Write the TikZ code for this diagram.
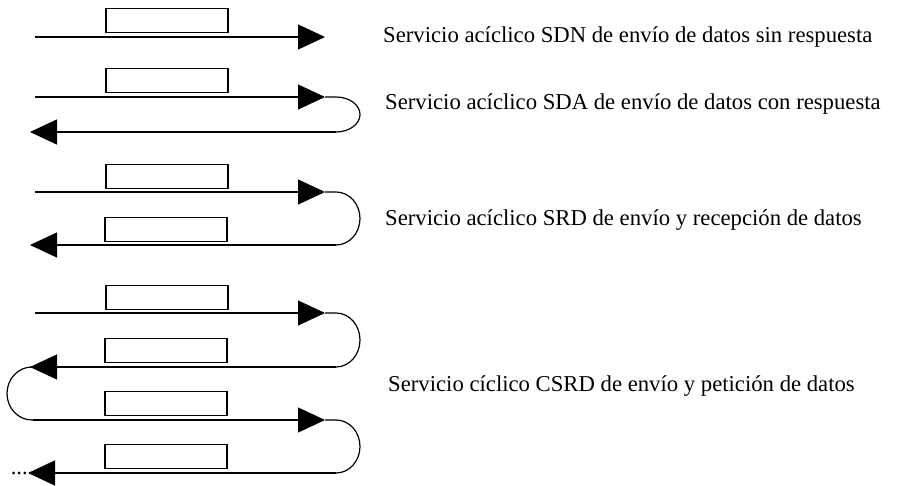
\documentclass[tikz,border=0pt]{standalone}
\usepackage{fontspec}
\setmainfont{Liberation Serif}
\usetikzlibrary{arrows.meta,positioning}

\begin{document}
\begin{tikzpicture}[x=1pt,y=-1pt,
  frame/.style={draw,line width=1.4pt,minimum width=122pt,minimum height=24pt,inner sep=0pt},
  flow/.style={line width=1.2pt,-{Triangle[length=27pt,width=25pt]}},
  turn/.style={line width=1.2pt},
  caption/.style={anchor=west,inner sep=0pt,font=\fontsize{22.7}{25}\selectfont}]

  \useasboundingbox (0,0) rectangle (915,486);

  % SDN
  \coordinate (n_in) at (35,37);
  \coordinate (n_out) at (325,37);
  \coordinate (n_mid) at (167,37);
  \node[frame] (n_msg) [above=4pt of n_mid] {};
  \draw[flow] (n_in) -- (n_out);
  \node[caption] (sdn) at (383,37) {Servicio acíclico SDN de envío de datos sin respuesta};

  % SDA
  \coordinate (a_in) at (35,97);
  \coordinate (a_out) at (325,97);
  \coordinate (a_mid) at (167,97);
  \coordinate (a_back) at (336,132);
  \coordinate (a_end) at (30,132);
  \node[frame] (a_msg) [above=4pt of a_mid] {};
  \draw[flow] (a_in) -- (a_out);
  \draw[turn] (a_out) -- ++(11,0) arc[start angle=90,end angle=-90,x radius=24pt,y radius=17.5pt];
  \draw[flow] (a_back) -- (a_end);
  \node[caption] (sda) at (385,104) {Servicio acíclico SDA de envío de datos con respuesta};

  % SRD
  \coordinate (r_in) at (35,192);
  \coordinate (r_out) at (325,192);
  \coordinate (r_mid) at (167,192);
  \coordinate (r_back) at (336,245);
  \coordinate (r_end) at (30,245);
  \coordinate (r_mid2) at (166,245);
  \node[frame] (r_msg) [above=3pt of r_mid] {};
  \node[frame] (r_ans) [above=3pt of r_mid2] {};
  \draw[flow] (r_in) -- (r_out);
  \draw[turn] (r_out) -- ++(11,0) arc[start angle=90,end angle=-90,x radius=24pt,y radius=26.5pt];
  \draw[flow] (r_back) -- (r_end);
  \node[caption] (srd) at (385,220) {Servicio acíclico SRD de envío y recepción de datos};

  % CSRD
  \coordinate (c_in) at (35,313);
  \coordinate (c_out) at (325,313);
  \coordinate (c_mid) at (167,313);
  \coordinate (c_back) at (336,367);
  \coordinate (c_end) at (30,367);
  \coordinate (c_mid2) at (166,367);
  \coordinate (c_in2) at (33,420);
  \coordinate (c_out2) at (325,420);
  \coordinate (c_mid3) at (166,420);
  \coordinate (c_back2) at (336,473);
  \coordinate (c_end2) at (28,473);
  \coordinate (c_mid4) at (166,473);
  \node[frame] (c_msg) [above=3pt of c_mid] {};
  \node[frame] (c_ans) [above=4pt of c_mid2] {};
  \node[frame] (c_msg2) [above=4pt of c_mid3] {};
  \node[frame] (c_ans2) [above=4pt of c_mid4] {};
  \draw[flow] (c_in) -- (c_out);
  \draw[turn] (c_out) -- ++(11,0) arc[start angle=90,end angle=-90,x radius=24pt,y radius=27pt];
  \draw[flow] (c_back) -- (c_end);
  \draw[turn] (c_end) -- ++(2,0) arc[start angle=90,end angle=270,x radius=25pt,y radius=26.5pt] -- (c_in2);
  \draw[flow] (c_in2) -- (c_out2);
  \draw[turn] (c_out2) -- ++(11,0) arc[start angle=90,end angle=-90,x radius=24pt,y radius=26.5pt];
  \draw[flow] (c_back2) -- (c_end2);
  \node[anchor=east,inner sep=0pt,font=\fontsize{22.7}{25}\selectfont] (dots) at (c_end2) {...};
  \node[caption] (csrd) at (388,386) {Servicio cíclico CSRD de envío y petición de datos};

\end{tikzpicture}
\end{document}
